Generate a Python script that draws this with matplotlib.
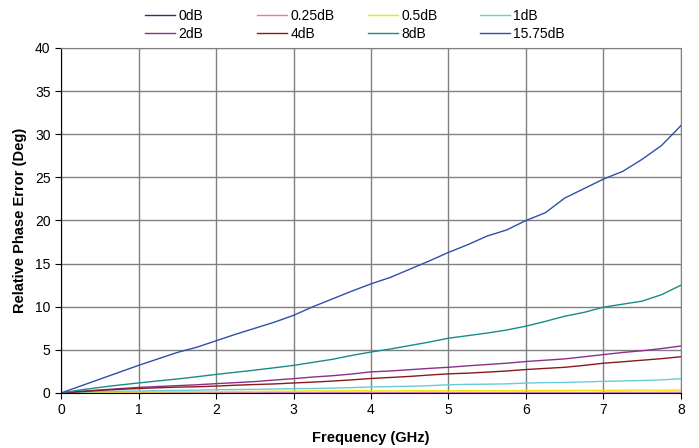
import numpy as np
import matplotlib
matplotlib.use('Agg')
import matplotlib.pyplot as plt

plt.rcParams['font.family'] = ['Liberation Sans', 'DejaVu Sans']

# frequency grid (GHz), 0.25 GHz steps
freq = np.arange(0, 8.001, 0.25)

# relative phase error (deg)
db_0 = [0.0] * 33
db_025 = [0.0, 0.02, 0.03, 0.05, 0.04, 0.06, 0.05, 0.07, 0.06, 0.05, 0.08, 0.06, 0.07,
          0.05, 0.08, 0.06, 0.07, 0.05, 0.06, 0.08, 0.06, 0.07, 0.05, 0.06, 0.08, 0.07,
          0.06, 0.05, 0.07, 0.08, 0.06, 0.07, 0.08]
db_05 = [0.0, 0.05, 0.08, 0.1, 0.12, 0.12, 0.15, 0.14, 0.16, 0.18, 0.17, 0.2, 0.22,
         0.25, 0.24, 0.26, 0.25, 0.24, 0.27, 0.26, 0.25, 0.28, 0.26, 0.27, 0.3, 0.29,
         0.3, 0.32, 0.3, 0.33, 0.34, 0.32, 0.35]
db_1 = [0.0, 0.1, 0.15, 0.2, 0.23, 0.27, 0.3, 0.32, 0.38, 0.4, 0.42, 0.46, 0.5,
        0.52, 0.56, 0.62, 0.7, 0.74, 0.78, 0.85, 0.95, 1.0, 1.02, 1.06, 1.15, 1.2,
        1.22, 1.28, 1.35, 1.4, 1.45, 1.52, 1.65]
db_2 = [0.0, 0.2, 0.35, 0.5, 0.65, 0.75, 0.85, 0.95, 1.08, 1.2, 1.32, 1.5, 1.66,
        1.85, 2.0, 2.2, 2.45, 2.55, 2.7, 2.85, 2.98, 3.15, 3.3, 3.45, 3.65, 3.8,
        3.95, 4.2, 4.45, 4.7, 4.9, 5.15, 5.45]
db_4 = [0.0, 0.15, 0.3, 0.42, 0.52, 0.6, 0.68, 0.72, 0.8, 0.9, 0.98, 1.05, 1.16,
        1.26, 1.38, 1.52, 1.68, 1.8, 1.92, 2.08, 2.22, 2.3, 2.42, 2.55, 2.72, 2.85,
        2.98, 3.2, 3.45, 3.62, 3.8, 3.98, 4.2]
db_8 = [0.0, 0.35, 0.65, 0.92, 1.16, 1.4, 1.62, 1.88, 2.15, 2.4, 2.65, 2.92, 3.2,
        3.55, 3.9, 4.35, 4.75, 5.1, 5.5, 5.9, 6.35, 6.65, 6.95, 7.3, 7.75, 8.3,
        8.9, 9.35, 9.95, 10.3, 10.65, 11.4, 12.5]
db_1575 = [0.0, 0.8, 1.6, 2.4, 3.2, 3.95, 4.7, 5.3, 6.05, 6.8, 7.5, 8.2, 9.0,
           10.0, 10.9, 11.8, 12.65, 13.4, 14.35, 15.3, 16.3, 17.2, 18.2, 18.9, 20.0,
           20.9, 22.6, 23.7, 24.8, 25.7, 27.1, 28.7, 31.0]

series = [db_0, db_025, db_05, db_1, db_2, db_4, db_8, db_1575]
labels = ['0dB', '0.25dB', '0.5dB', '1dB', '2dB', '4dB', '8dB', '15.75dB']
colors = ['#2E2E7A', '#DD77CC', '#F0E800', '#66CCDD',
          '#8B2F8B', '#8B1A1A', '#1A8A8A', '#3050A8']

fig = plt.figure(figsize=(6.99, 4.48), dpi=100)
ax = fig.add_axes([0.0873, 0.1228, 0.8869, 0.7701])

lines = []
for y, lab, c in zip(series, labels, colors):
    ln, = ax.plot(freq, y, color=c, lw=1.0, label=lab)
    lines.append(ln)

ax.set_xlim(0, 8)
ax.set_ylim(0, 40)
ax.set_xticks(range(0, 9))
ax.set_yticks(range(0, 41, 5))
ax.grid(True, color='#808080', lw=1.0)
ax.set_axisbelow(True)
for s in ['top', 'right']:
    ax.spines[s].set_color('#808080')
ax.spines['left'].set_color('black')
ax.spines['bottom'].set_color('black')
ax.tick_params(labelsize=10, length=4, width=0.8)

ax.set_xlabel('Frequency (GHz)', fontsize=10.5, fontweight='bold', labelpad=10)
ax.set_ylabel('Relative Phase Error (Deg)', fontsize=10.5, fontweight='bold', labelpad=6)

# legend: four columns, two rows each, above the plot
col_x = [145, 257, 368, 480]
for i, x0 in enumerate(col_x):
    leg = fig.legend([lines[i], lines[i + 4]], [labels[i], labels[i + 4]],
                     loc='upper left', bbox_to_anchor=(x0 / 699, 0.98),
                     frameon=False, fontsize=10, handlelength=2.15,
                     handletextpad=0.25, labelspacing=0.3, borderpad=0,
                     borderaxespad=0)

plt.savefig('out.png', dpi=100)
